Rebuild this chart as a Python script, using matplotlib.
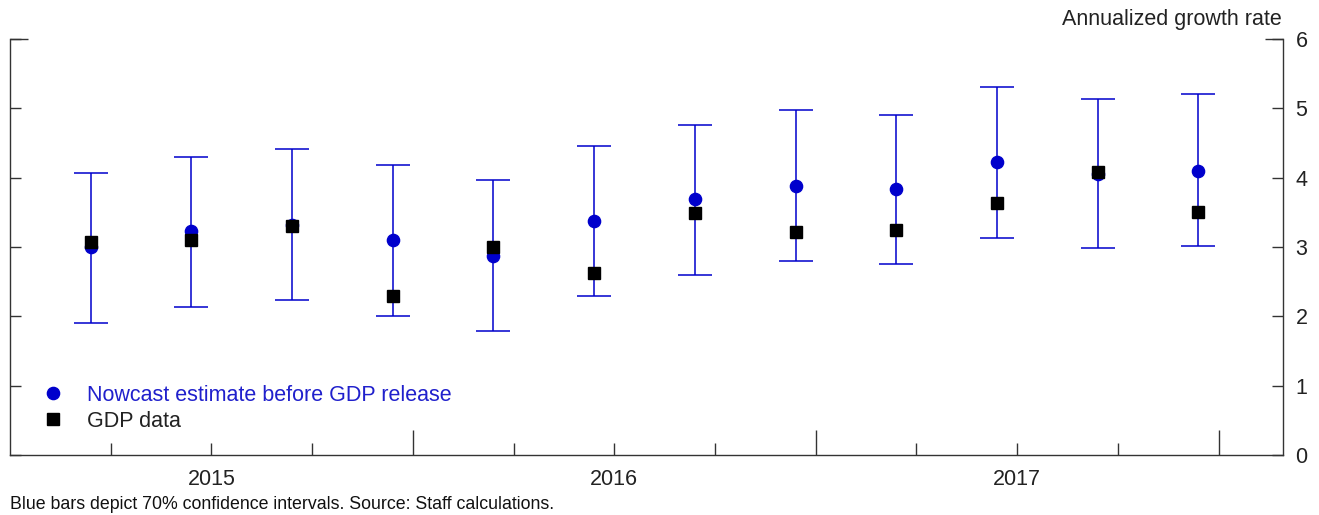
import matplotlib
matplotlib.use("Agg")
import matplotlib.pyplot as plt
from matplotlib.lines import Line2D
import numpy as np

plt.rcParams["font.family"] = ["Liberation Sans", "DejaVu Sans"]

# ── data: quarterly nowcasts vs. released GDP growth ─────────────────────────
quarters = ["2015Q1", "2015Q2", "2015Q3", "2015Q4",
            "2016Q1", "2016Q2", "2016Q3", "2016Q4",
            "2017Q1", "2017Q2", "2017Q3", "2017Q4"]
nowcast = [3.00, 3.23, 3.32, 3.10, 2.87, 3.38, 3.69, 3.88, 3.84, 4.23, 4.05, 4.10]
ci_low = [1.90, 2.13, 2.24, 2.01, 1.79, 2.29, 2.60, 2.80, 2.76, 3.13, 2.98, 3.02]
ci_high = [4.07, 4.30, 4.41, 4.18, 3.96, 4.46, 4.76, 4.97, 4.91, 5.31, 5.13, 5.20]
gdp = [3.07, 3.10, 3.30, 2.30, 3.00, 2.62, 3.49, 3.22, 3.24, 3.63, 4.08, 3.50]

years = [2015, 2016, 2017]
y_ticks = [0, 1, 2, 3, 4, 5, 6]

BLUE = "#0000cc"
FS = 15.5

# release dates sit ~0.2 yr into each quarter
x = np.array([int(q[:4]) + (int(q[-1]) - 1) * 0.25 + 0.2 for q in quarters])
est = np.array(nowcast)
yerr = [est - np.array(ci_low), np.array(ci_high) - est]

fig = plt.figure(figsize=(13.19, 5.15), dpi=100)
ax = fig.add_axes([0.0076, 0.1165, 0.9651, 0.8078])

ax.errorbar(x, est, yerr=yerr, fmt="none", ecolor=BLUE, elinewidth=1.1,
            capsize=12, capthick=1.1, zorder=2)
ax.plot(x, est, "o", color=BLUE, markersize=8.8, zorder=3)
ax.plot(x, gdp, "s", color="black", markersize=8.6, zorder=4)

ax.set_xlim(2015.0, 2018.16)
ax.set_ylim(0, 6)

# ── spines & ticks ────────────────────────────────────────────────────────────
ax.spines["top"].set_visible(False)
for s in ("left", "right", "bottom"):
    ax.spines[s].set_color("#333333")
    ax.spines[s].set_linewidth(1.0)

# year boundaries get long ticks, quarter boundaries short ones
ax.set_xticks([y + 1 for y in years])
ax.set_xticklabels([])
qtr_ticks = [y + f for y in years for f in (0.25, 0.5, 0.75)]
qtr_labels = [str(y) if f == 0.5 else "" for y in years for f in (0.25, 0.5, 0.75)]
ax.set_xticks(qtr_ticks, minor=True)
ax.set_xticklabels(qtr_labels, minor=True)
ax.tick_params(axis="x", which="major", direction="in", length=18, width=1,
               color="#333333")
ax.tick_params(axis="x", which="minor", direction="in", length=9, width=1,
               color="#333333", pad=10, labelsize=FS, labelcolor="#222222")

ax.yaxis.tick_right()
ax.set_yticks(y_ticks)
ax.tick_params(axis="y", which="major", direction="in", length=8, width=1,
               color="#333333", pad=9, labelsize=FS, labelcolor="#222222",
               left=True, right=True, labelleft=False, labelright=True)

# longer stubs at the top of both vertical axes
for xs in ([0, 0.0145], [1 - 0.0142, 1]):
    ax.plot(xs, [1, 1], transform=ax.transAxes, color="#333333", lw=1,
            clip_on=False, solid_capstyle="butt")

ax.text(0.999, 1.022, "Annualized growth rate", transform=ax.transAxes,
        ha="right", va="bottom", fontsize=FS, color="#222222")

handles = [Line2D([], [], marker="o", ls="none", color=BLUE, markersize=8.8),
           Line2D([], [], marker="s", ls="none", color="black", markersize=8.6)]
leg = ax.legend(handles, ["Nowcast estimate before GDP release", "GDP data"],
                loc="lower left", bbox_to_anchor=(0.0165, 0.03), frameon=False,
                fontsize=FS, handlelength=1.0, handletextpad=1.1,
                labelspacing=0.22, borderpad=0)
leg.get_texts()[0].set_color("#2020cc")
leg.get_texts()[1].set_color("#222222")

fig.text(0.0076, 0.004, "Blue bars depict 70% confidence intervals. "
         "Source: Staff calculations.", ha="left", va="bottom",
         fontsize=12.8, color="#111111")

fig.savefig("out.png", dpi=100)
